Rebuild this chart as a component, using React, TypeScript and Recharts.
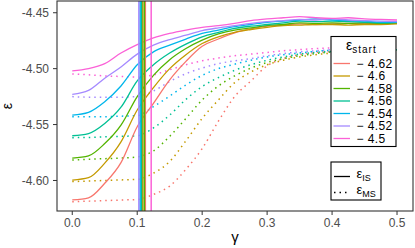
import { LineChart, Line, XAxis, YAxis, ReferenceLine } from "recharts";

// gamma grid shared by all curves
const gammas = [
  0, 0.025, 0.05, 0.075, 0.1, 0.125, 0.15, 0.175, 0.2, 0.225, 0.25, 0.275, 0.3, 0.325, 0.35, 0.375,
  0.4, 0.425, 0.45, 0.475, 0.5,
];

const startLabels = ["4.62", "4.6", "4.58", "4.56", "4.54", "4.52", "4.5"];
const colors = ["#F8766D", "#C49A00", "#53B400", "#00C094", "#00B6EB", "#A58AFF", "#FB61D7"];

// eps_IS (solid)
const isRed = [-4.6174, -4.6155, -4.6025, -4.584, -4.552, -4.531, -4.51, -4.4935, -4.48, -4.4735, -4.468, -4.4645, -4.462, -4.461, -4.46, -4.4605, -4.46, -4.4595, -4.4595, -4.4595, -4.4595];
const isYellow = [-4.5996, -4.5975, -4.5845, -4.5655, -4.537, -4.517, -4.5, -4.4875, -4.4775, -4.4715, -4.4675, -4.465, -4.463, -4.4615, -4.461, -4.4605, -4.4605, -4.461, -4.4605, -4.4605, -4.46];
const isGreen = [-4.58, -4.578, -4.567, -4.5505, -4.525, -4.506, -4.492, -4.482, -4.4745, -4.469, -4.4655, -4.4635, -4.4615, -4.4605, -4.459, -4.4595, -4.459, -4.4595, -4.459, -4.4595, -4.459];
const isTeal = [-4.56, -4.558, -4.549, -4.5345, -4.511, -4.4965, -4.486, -4.478, -4.4715, -4.4675, -4.464, -4.462, -4.4605, -4.459, -4.4575, -4.458, -4.4575, -4.458, -4.4585, -4.459, -4.4585];
const isCyan = [-4.5415, -4.539, -4.5295, -4.5155, -4.4965, -4.485, -4.479, -4.4735, -4.4685, -4.4655, -4.4625, -4.4605, -4.4585, -4.4575, -4.4565, -4.4555, -4.4565, -4.457, -4.4575, -4.4585, -4.4585];
const isPurple = [-4.523, -4.5195, -4.5085, -4.4985, -4.487, -4.479, -4.474, -4.47, -4.466, -4.4635, -4.4615, -4.4595, -4.458, -4.457, -4.456, -4.4565, -4.4555, -4.4565, -4.457, -4.4575, -4.458];
const isPink = [-4.502, -4.5, -4.4955, -4.486, -4.4785, -4.4725, -4.4685, -4.4655, -4.463, -4.4615, -4.4595, -4.457, -4.4555, -4.4545, -4.4535, -4.4545, -4.455, -4.4545, -4.4555, -4.456, -4.4565];

// eps_MS (dotted)
const msRed = [-4.619, -4.6185, -4.618, -4.6175, -4.617, -4.6125, -4.605, -4.59, -4.5715, -4.547, -4.525, -4.511, -4.4975, -4.491, -4.4875, -4.4855, -4.4848, -4.4845, -4.4845, -4.4845, -4.4845];
const msYellow = [-4.601, -4.6005, -4.6, -4.5995, -4.599, -4.5935, -4.583, -4.5645, -4.5445, -4.528, -4.5125, -4.503, -4.4965, -4.4925, -4.4895, -4.4875, -4.486, -4.485, -4.4845, -4.484, -4.484];
const msGreen = [-4.5817, -4.581, -4.5805, -4.58, -4.579, -4.5735, -4.5605, -4.5445, -4.528, -4.5155, -4.5065, -4.4995, -4.4945, -4.491, -4.4885, -4.4865, -4.485, -4.4845, -4.484, -4.4835, -4.4835];
const msTeal = [-4.5617, -4.5615, -4.561, -4.5605, -4.56, -4.553, -4.5415, -4.5275, -4.516, -4.508, -4.5015, -4.4965, -4.4925, -4.4895, -4.487, -4.4855, -4.4845, -4.4835, -4.4835, -4.483, -4.483];
const msCyan = [-4.543, -4.543, -4.543, -4.5425, -4.542, -4.534, -4.5245, -4.5145, -4.506, -4.5, -4.496, -4.4925, -4.4895, -4.4875, -4.486, -4.4845, -4.4835, -4.483, -4.483, -4.483, -4.483];
const msPurple = [-4.525, -4.5255, -4.5255, -4.5255, -4.525, -4.52, -4.5115, -4.5045, -4.4995, -4.4955, -4.493, -4.491, -4.4885, -4.4865, -4.485, -4.484, -4.483, -4.4825, -4.4825, -4.482, -4.482];
const msPink = [-4.5048, -4.5055, -4.5065, -4.507, -4.5075, -4.5055, -4.501, -4.4965, -4.493, -4.4905, -4.4885, -4.487, -4.4855, -4.484, -4.483, -4.482, -4.4815, -4.4815, -4.481, -4.481, -4.481];

// gamma where each start value switches (vertical lines)
const switchGamma = [0.1125, 0.1085, 0.111, 0.1065, 0.1045, 0.1025, 0.1215];

const isSeries = [isRed, isYellow, isGreen, isTeal, isCyan, isPurple, isPink];
const msSeries = [msRed, msYellow, msGreen, msTeal, msCyan, msPurple, msPink];

const xTicks = [0, 0.1, 0.2, 0.3, 0.4, 0.5];
const yTicks = [-4.6, -4.55, -4.5, -4.45];

const toPoints = (vals: number[]) => gammas.map((g, i) => ({ g, e: vals[i] }));

const FONT = "'Liberation Sans', Arial, Helvetica, sans-serif";

export default function App() {
  return (
    <div style={{ position: "absolute", left: 0, top: 0, width: 415, height: 248, background: "#fff", fontFamily: FONT }}>
      <LineChart width={415} height={248} margin={{ top: 1, right: 2, left: 12, bottom: 7 }}>
        <XAxis
          type="number"
          dataKey="g"
          domain={[-0.0235, 0.5246]}
          ticks={xTicks}
          allowDataOverflow
          axisLine={false}
          tickLine={{ stroke: "#333", strokeWidth: 1 }}
          tickSize={4}
          tickMargin={3}
          height={30}
          tickFormatter={(v: number) => v.toFixed(1)}
          tick={{ fill: "#4d4d4d", fontSize: 12, fontFamily: FONT }}
        />
        <YAxis
          type="number"
          dataKey="e"
          domain={[-4.6273, -4.4395]}
          ticks={yTicks}
          allowDataOverflow
          axisLine={false}
          tickLine={{ stroke: "#333", strokeWidth: 1 }}
          tickSize={4}
          tickMargin={4}
          width={45}
          tickFormatter={(v: number) => v.toFixed(2)}
          tick={{ fill: "#4d4d4d", fontSize: 12, fontFamily: FONT }}
        />
        {msSeries.map((vals, i) => (
          <Line
            key={"ms" + i}
            data={toPoints(vals)}
            dataKey="e"
            type="monotone"
            stroke={colors[i]}
            strokeWidth={1.5}
            strokeDasharray="1.5 4"
            dot={false}
            isAnimationActive={false}
          />
        ))}
        {isSeries.map((vals, i) => (
          <Line
            key={"is" + i}
            data={toPoints(vals)}
            dataKey="e"
            type="monotone"
            stroke={colors[i]}
            strokeWidth={1.3}
            dot={false}
            isAnimationActive={false}
          />
        ))}
        {switchGamma.map((g, i) => (
          <ReferenceLine key={"v" + i} x={g} stroke={colors[i]} strokeWidth={1.5} />
        ))}
      </LineChart>
      <svg width={415} height={248} style={{ position: "absolute", left: 0, top: 0, pointerEvents: "none" }}>
        <rect x={57} y={1} width={356} height={210} fill="none" stroke="#333" strokeWidth={1.1} />
        <text x={235} y={242} textAnchor="middle" fontSize={15} fill="#000" fontFamily={FONT}>
          γ
        </text>
        <text x={12} y={106} textAnchor="middle" fontSize={14} fill="#000" fontFamily={FONT} transform="rotate(-90 12 106)">
          ε
        </text>
        {/* start-value legend */}
        <rect x={331} y={36.5} width={65} height={110} fill="#fff" stroke="#000" strokeWidth={1.1} />
        <text x={346} y={50} fontSize={14} fill="#000" fontFamily={FONT}>
          ε
          <tspan fontSize={10} dy={2.5} letterSpacing={1}>
            start
          </tspan>
        </text>
        {startLabels.map((lab, i) => (
          <g key={lab}>
            <line x1={333.5} x2={350} y1={63.5 + 12.5 * i} y2={63.5 + 12.5 * i} stroke={colors[i]} strokeWidth={1.3} />
            <text x={356.5} y={67.8 + 12.5 * i} fontSize={12} letterSpacing={0.4} fill="#000" fontFamily={FONT}>
              {"− " + lab}
            </text>
          </g>
        ))}
        {/* line type legend */}
        <rect x={331} y={162} width={50} height={38} fill="#fff" stroke="#000" strokeWidth={1.1} />
        <line x1={334} x2={350} y1={176.5} y2={176.5} stroke="#000" strokeWidth={1.3} />
        <line x1={334} x2={350} y1={192.5} y2={192.5} stroke="#000" strokeWidth={1.5} strokeDasharray="1.5 4" />
        <text x={356.5} y={178} fontSize={13} fill="#000" fontFamily={FONT}>
          ε<tspan fontSize={9} dy={3}>IS</tspan>
        </text>
        <text x={356.5} y={194} fontSize={13} fill="#000" fontFamily={FONT}>
          ε<tspan fontSize={9} dy={3}>MS</tspan>
        </text>
      </svg>
    </div>
  );
}
